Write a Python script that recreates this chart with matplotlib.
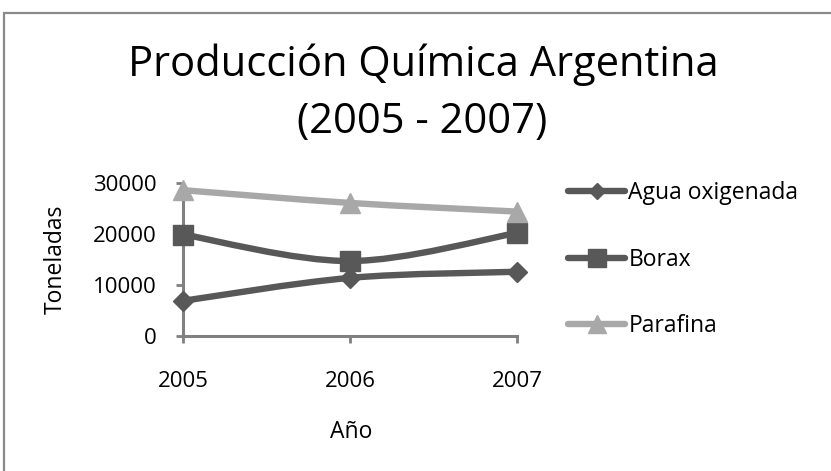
import matplotlib
matplotlib.use("Agg")
import matplotlib.pyplot as plt
from matplotlib.path import Path
from matplotlib.patches import PathPatch, Rectangle
from matplotlib.lines import Line2D

years = [2005, 2006, 2007]
agua = [6900, 11400, 12600]
borax = [19900, 14700, 20200]
parafina = [28600, 26100, 24400]

series_names = ["Agua oxigenada", "Borax", "Parafina"]
series_colors = ["#585858", "#585858", "#a8a8a8"]
series_markers = ["D", "s", "^"]
marker_sizes = [10, 15, 15]

plt.rcParams['font.family'] = ['Open Sans', 'DejaVu Sans']


def smooth_path(xs, ys):
    # Excel-style smoothed line: cubic bezier through the points
    verts = [(xs[0], ys[0])]
    codes = [Path.MOVETO]
    n = len(xs)
    for i in range(n - 1):
        x0, y0 = (xs[i - 1], ys[i - 1]) if i > 0 else (xs[i], ys[i])
        x3, y3 = (xs[i + 2], ys[i + 2]) if i + 2 < n else (xs[i + 1], ys[i + 1])
        c1 = (xs[i] + (xs[i + 1] - x0) / 6, ys[i] + (ys[i + 1] - y0) / 6)
        c2 = (xs[i + 1] - (x3 - xs[i]) / 6, ys[i + 1] - (y3 - ys[i]) / 6)
        verts += [c1, c2, (xs[i + 1], ys[i + 1])]
        codes += [Path.CURVE4] * 3
    return Path(verts, codes)


fig = plt.figure(figsize=(8.31, 4.71), dpi=100)
# chart frame: only the left and top edges fall inside the image
fig.patches.append(Rectangle((4 / 831, -0.1), 1.0, 1.1 - 12.5 / 471,
                             transform=fig.transFigure, facecolor='none',
                             edgecolor='#8a8a8a', lw=1.6, clip_on=False))

ax = fig.add_axes([0.2202, 0.2866, 0.4019, 0.3248])

handles = []
for vals, name, col, mk, ms in zip([agua, borax, parafina], series_names,
                                   series_colors, series_markers, marker_sizes):
    patch = PathPatch(smooth_path(years, vals), facecolor='none', edgecolor=col,
                      lw=4.6, capstyle='round', joinstyle='round', clip_on=False, zorder=3)
    ax.add_patch(patch)
    ax.plot(years, vals, linestyle='none', marker=mk, markersize=ms, color=col,
            clip_on=False, zorder=4)
    handles.append(Line2D([], [], color=col, lw=4.6, marker=mk, markersize=ms * 0.85,
                          solid_capstyle='round'))

ax.set_xlim(2005, 2007)
ax.set_ylim(0, 30000)
ax.set_xticks(years)
ax.set_xticklabels([str(y) for y in years])
ax.set_yticks([0, 10000, 20000, 30000])
ax.tick_params(axis='both', colors='#808080', width=2, length=5, labelsize=16,
               labelcolor='black')
ax.tick_params(axis='x', pad=20)
ax.tick_params(axis='y', pad=14)
for s in ['top', 'right']:
    ax.spines[s].set_visible(False)
for s in ['left', 'bottom']:
    ax.spines[s].set_color('#808080')
    ax.spines[s].set_linewidth(2.2)
ax.set_facecolor('none')

ax.set_ylabel("Toneladas", fontsize=16.5)
ax.yaxis.set_label_coords(-0.344, 0.5)
ax.set_xlabel("Año", fontsize=16.5)
ax.xaxis.set_label_coords(0.503, -0.549)

fig.text(0.510, 1 - 76 / 471, "Producción Química Argentina", ha='center', va='baseline', fontsize=30)
fig.text(0.508, 1 - 133 / 471, "(2005 - 2007)", ha='center', va='baseline', fontsize=30)

fig.legend(handles, series_names, loc='upper left', bbox_to_anchor=(568 / 831, 1 - 181 / 471),
           frameon=False, fontsize=16.5, handlelength=2.5, handletextpad=0.13,
           labelspacing=1.86, borderpad=0, borderaxespad=0)

fig.savefig("out.png", dpi=100)
